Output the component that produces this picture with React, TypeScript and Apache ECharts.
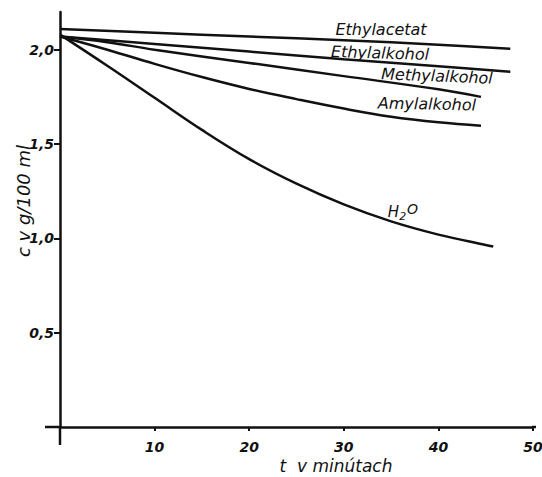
import React, { useEffect, useRef } from "react";
import * as echarts from "echarts";

// time in minutes (x) and concentration c in g/100 ml (y)
const ethylacetatT = [0, 10, 20, 30, 40, 47.6];
const ethylacetatC = [2.11, 2.09, 2.07, 2.05, 2.027, 2.005];

const ethylalkoholT = [0, 10, 20, 30, 40, 47.6];
const ethylalkoholC = [2.07, 2.03, 1.99, 1.95, 1.912, 1.883];

const methylalkoholT = [0, 5, 10, 20, 30, 40, 44.5];
const methylalkoholC = [2.07, 2.04, 2.0, 1.93, 1.86, 1.79, 1.75];

const amylalkoholT = [0, 5, 10, 15, 20, 25, 30, 35, 40, 44.5];
const amylalkoholC = [2.07, 2.0, 1.925, 1.855, 1.792, 1.738, 1.688, 1.645, 1.615, 1.597];

const waterT = [0, 5, 10, 15, 20, 25, 30, 35, 40, 45, 45.8];
const waterC = [2.08, 1.915, 1.745, 1.575, 1.42, 1.29, 1.18, 1.09, 1.02, 0.965, 0.957];

const xTicks = [10, 20, 30, 40, 50];
const yTicks = [0.5, 1.0, 1.5, 2.0];

const seriesNames = ["Ethylacetat", "Ethylalkohol", "Methylalkohol", "Amylalkohol", "H2O"];

const zip = (t: number[], c: number[]) => t.map((v, i) => [v, c[i]]);

const INK = "#111";
const FONT = "DejaVu Sans";

export default function App() {
  const ref = useRef<HTMLDivElement>(null);
  useEffect(() => {
    document.body.style.margin = "0";
    const chart = echarts.init(ref.current!, undefined, { renderer: "svg" });
    const datasets = [
      zip(ethylacetatT, ethylacetatC),
      zip(ethylalkoholT, ethylalkoholC),
      zip(methylalkoholT, methylalkoholC),
      zip(amylalkoholT, amylalkoholC),
      zip(waterT, waterC),
    ];
    const labelStyle = { fill: INK, font: `italic 16px "${FONT}"` };
    chart.setOption({
      animation: false,
      backgroundColor: "#fff",
      grid: { left: 60, right: 9, top: 12, bottom: 50, outerBoundsMode: "none", containLabel: false },
      xAxis: {
        type: "value",
        min: 0,
        max: 50,
        interval: 10,
        axisLine: { show: true, lineStyle: { color: INK, width: 2.5 } },
        axisTick: { show: true, length: 4, lineStyle: { color: INK, width: 2 }, customValues: xTicks },
        axisLabel: {
          customValues: xTicks,
          color: INK,
          fontFamily: FONT,
          fontStyle: "italic",
          fontWeight: "bold",
          fontSize: 14,
          margin: 13,
        },
        splitLine: { show: false },
      },
      yAxis: {
        type: "value",
        min: 0,
        max: 2.2,
        interval: 0.5,
        axisLine: { show: true, lineStyle: { color: INK, width: 2.5 } },
        axisTick: { show: true, length: 6, lineStyle: { color: INK, width: 2 }, customValues: yTicks },
        axisLabel: {
          customValues: yTicks,
          color: INK,
          fontFamily: FONT,
          fontStyle: "italic",
          fontWeight: "bold",
          fontSize: 14,
          margin: 6,
          padding: [0, 0, 6, 0],
          formatter: (v: number) => v.toFixed(1).replace(".", ","),
        },
        splitLine: { show: false },
      },
      series: datasets.map((d, i) => ({
        name: seriesNames[i],
        type: "line",
        smooth: 0.4,
        showSymbol: false,
        data: d,
        lineStyle: { color: INK, width: 2.5 },
        itemStyle: { color: INK },
      })),
      graphic: [
        // axis extensions beyond the origin
        { type: "line", shape: { x1: 45, y1: 427, x2: 61, y2: 427 }, style: { stroke: INK, lineWidth: 2.5 } },
        { type: "line", shape: { x1: 60, y1: 426, x2: 60, y2: 445 }, style: { stroke: INK, lineWidth: 2.5 } },
        { type: "line", shape: { x1: 532, y1: 427, x2: 536, y2: 427 }, style: { stroke: INK, lineWidth: 2.5 } },
        // axis names
        {
          type: "text",
          x: 23,
          y: 201,
          rotation: Math.PI / 2,
          style: { text: "c v g/100 ml", fill: INK, font: `italic 18px "${FONT}"`, align: "center", verticalAlign: "middle" },
        },
        {
          type: "text",
          x: 336,
          y: 466,
          style: { text: "t  v minútach", fill: INK, font: `italic 17px "${FONT}"`, align: "center", verticalAlign: "middle" },
        },
        // curve labels
        { type: "text", x: 381, y: 29, style: { ...labelStyle, text: "Ethylacetat", align: "center", verticalAlign: "middle" } },
        { type: "text", x: 380, y: 53, rotation: -0.03, style: { ...labelStyle, text: "Ethylalkohol", align: "center", verticalAlign: "middle" } },
        { type: "text", x: 437, y: 76, rotation: -0.04, style: { ...labelStyle, text: "Methylalkohol", align: "center", verticalAlign: "middle" } },
        { type: "text", x: 427, y: 104, rotation: -0.02, style: { ...labelStyle, text: "Amylalkohol", align: "center", verticalAlign: "middle" } },
        {
          type: "text",
          x: 403,
          y: 212,
          style: {
            text: "{h|H}{s|2}{o|O}",
            align: "center",
            verticalAlign: "middle",
            rich: {
              h: { fill: INK, font: `italic 15px "${FONT}"` },
              s: { fill: INK, font: `italic 11px "${FONT}"`, padding: [8, 0, 0, 0] },
              o: { fill: INK, font: `italic 14px "${FONT}"`, padding: [0, 0, 6, 1] },
            },
          },
        },
      ],
    });
    return () => chart.dispose();
  }, []);
  return <div ref={ref} style={{ width: 542, height: 477 }} />;
}
